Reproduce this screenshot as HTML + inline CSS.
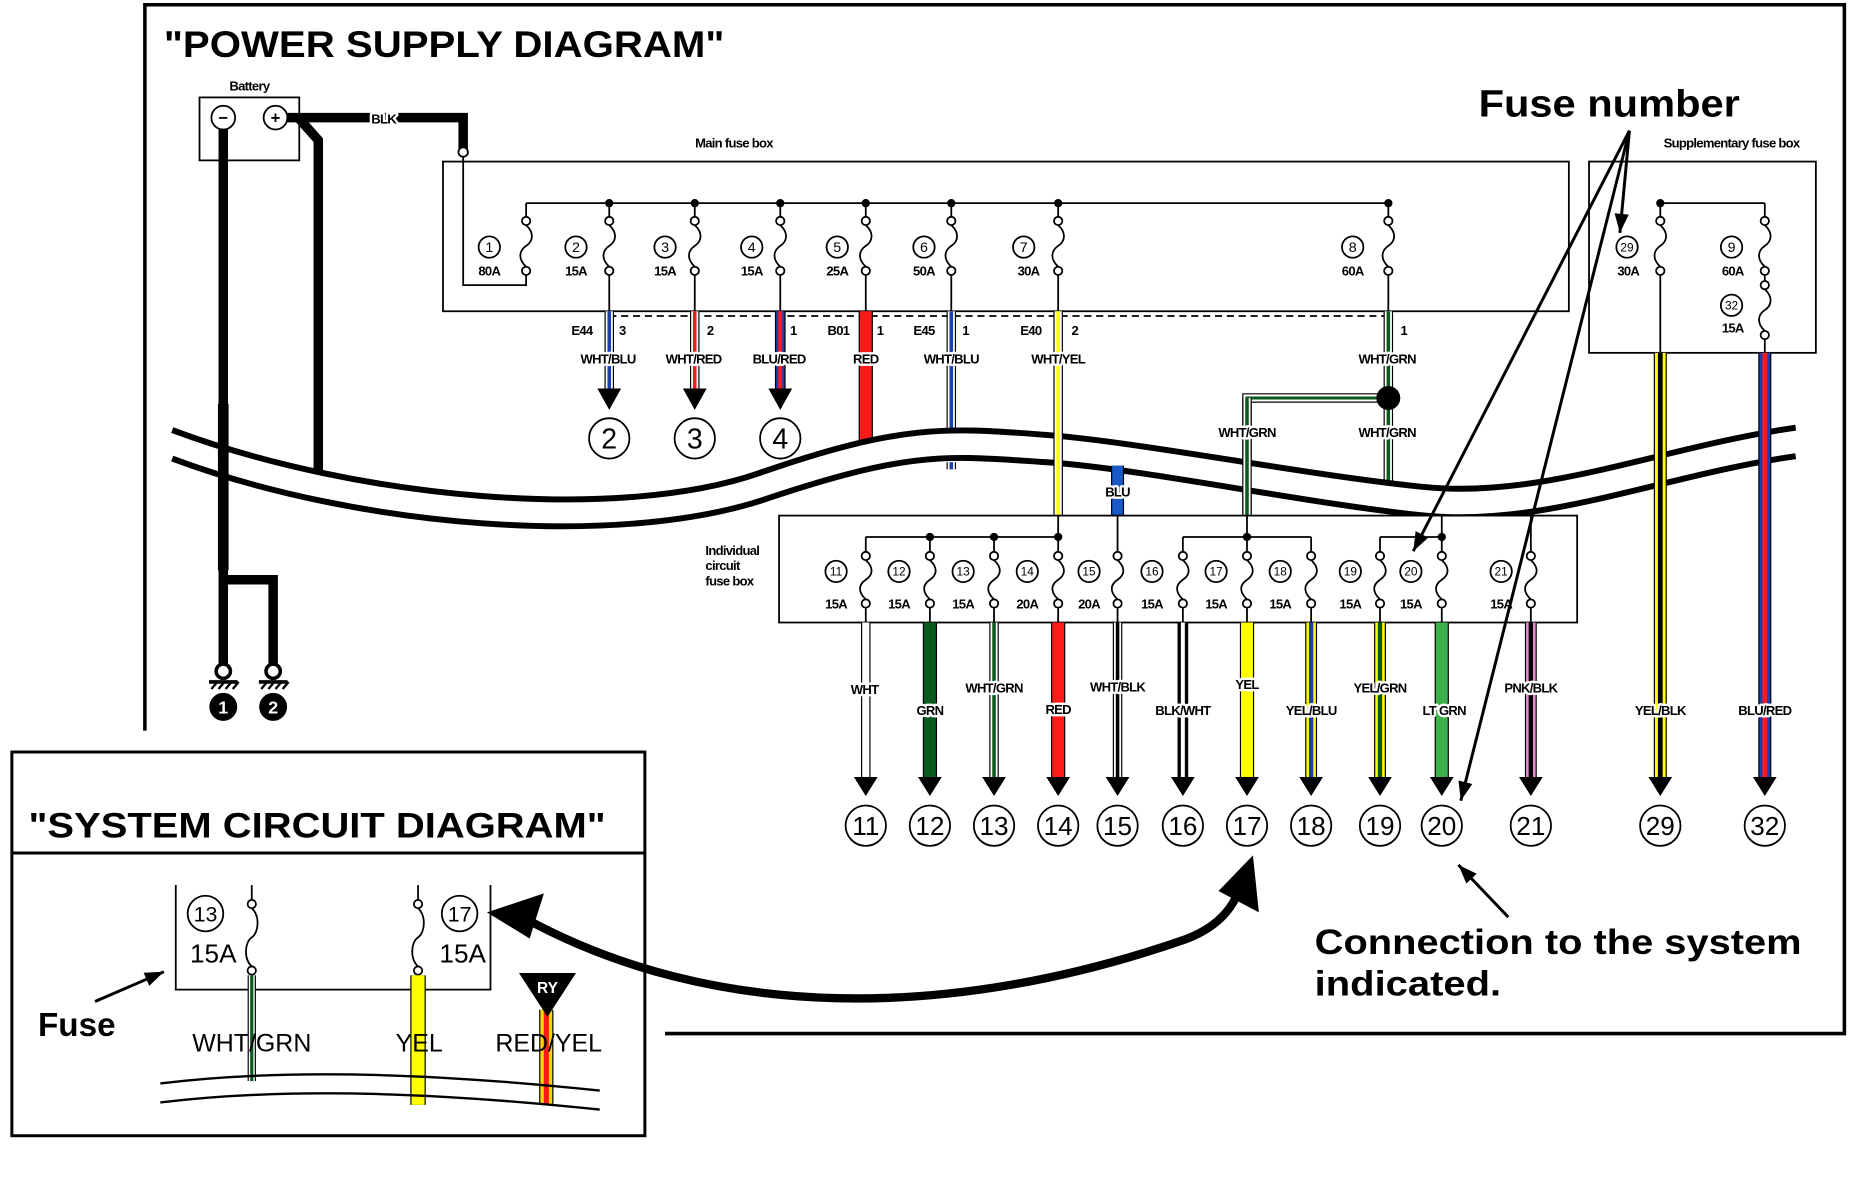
<!DOCTYPE html>
<html><head><meta charset="utf-8">
<style>
html,body{margin:0;padding:0;background:#fff}
svg{display:block}
text{font-family:"Liberation Sans",sans-serif;font-weight:bold;fill:#000}
.s{font-size:11px;letter-spacing:-0.6px}
.lb{paint-order:stroke;stroke:#fff;stroke-width:4px;stroke-linejoin:round}
.c{text-anchor:middle}
</style></head>
<body>
<svg id="svg" width="1861" height="1188" viewBox="0 0 1567 1000" preserveAspectRatio="none" xmlns="http://www.w3.org/2000/svg">
<rect width="1567" height="1000" fill="#fff"/>
<g id="shapes"></g>
<g id="top"></g>
<!-- texts -->
<text x="138" y="48" font-size="31" textLength="472" lengthAdjust="spacingAndGlyphs">"POWER SUPPLY DIAGRAM"</text>
<text x="210" y="76" class="s c" font-size="10">Battery</text>
<text x="323" y="104" class="s c lb">BLK</text>
<text x="618" y="124" class="s c">Main fuse box</text>
<text x="1458" y="124" class="s c">Supplementary fuse box</text>
<text x="1245" y="98" font-size="32" textLength="220" lengthAdjust="spacingAndGlyphs">Fuse number</text>
<text x="1107" y="803" font-size="30" textLength="410" lengthAdjust="spacingAndGlyphs">Connection to the system</text>
<text x="1107" y="838" font-size="30" textLength="157" lengthAdjust="spacingAndGlyphs">indicated.</text>

<g class="s c">
<text x="412" y="232">80A</text><text x="485" y="232">15A</text><text x="560" y="232">15A</text><text x="633" y="232">15A</text>
<text x="705" y="232">25A</text><text x="778" y="232">50A</text><text x="866" y="232">30A</text><text x="1139" y="232">60A</text>
<text x="1371" y="232">30A</text><text x="1459" y="232">60A</text><text x="1459" y="280">15A</text>
<text x="490" y="282">E44</text><text x="524" y="282">3</text><text x="598" y="282">2</text><text x="668" y="282">1</text>
<text x="706" y="282">B01</text><text x="741" y="282">1</text><text x="778" y="282">E45</text><text x="813" y="282">1</text>
<text x="868" y="282">E40</text><text x="905" y="282">2</text><text x="1182" y="282">1</text>
</g>
<g class="s c lb">
<text x="512" y="306">WHT/BLU</text><text x="584" y="306">WHT/RED</text><text x="656" y="306">BLU/RED</text>
<text x="729" y="306">RED</text><text x="801" y="306">WHT/BLU</text><text x="891" y="306">WHT/YEL</text>
<text x="1168" y="306">WHT/GRN</text><text x="1050" y="368">WHT/GRN</text><text x="1168" y="368">WHT/GRN</text>
<text x="941" y="418">BLU</text>
<text x="728" y="584">WHT</text><text x="783" y="602">GRN</text><text x="837" y="583">WHT/GRN</text>
<text x="891" y="601">RED</text><text x="941" y="582">WHT/BLK</text><text x="996" y="602">BLK/WHT</text>
<text x="1050" y="580">YEL</text><text x="1104" y="602">YEL/BLU</text><text x="1162" y="583">YEL/GRN</text>
<text x="1216" y="602">LT GRN</text><text x="1289" y="583">PNK/BLK</text><text x="1398" y="602">YEL/BLK</text>
<text x="1486" y="602">BLU/RED</text>
</g>
<g class="s">
<text x="594" y="467">Individual</text><text x="594" y="480">circuit</text><text x="594" y="493">fuse box</text>
</g>
<g class="s c">
<text x="704" y="512">15A</text><text x="757" y="512">15A</text><text x="811" y="512">15A</text><text x="865" y="512">20A</text>
<text x="917" y="512">20A</text><text x="970" y="512">15A</text><text x="1024" y="512">15A</text><text x="1078" y="512">15A</text>
<text x="1137" y="512">15A</text><text x="1188" y="512">15A</text><text x="1264" y="512">15A</text>
</g>

<text x="24" y="705" font-size="30" textLength="486" lengthAdjust="spacingAndGlyphs">"SYSTEM CIRCUIT DIAGRAM"</text>
<text x="160" y="810" font-size="22" style="font-weight:normal">15A</text>
<text x="370" y="810" font-size="22" style="font-weight:normal">15A</text>
<text x="32" y="872" font-size="28">Fuse</text>
<text x="212" y="885" font-size="21" class="c" style="font-weight:normal">WHT/GRN</text>
<text x="353" y="885" font-size="21" class="c" style="font-weight:normal">YEL</text>
<text x="462" y="885" font-size="21" class="c" style="font-weight:normal">RED/YEL</text>
<text x="461" y="836" font-size="13" class="c" style="fill:#fff">RY</text>
<g id="nums"></g>
</svg>
<script>
const NS="http://www.w3.org/2000/svg";
const S=document.getElementById('shapes');
function el(t,a,p){const e=document.createElementNS(NS,t);for(const k in a)e.setAttribute(k,a[k]);(p||S).appendChild(e);return e;}
function line(x1,y1,x2,y2,w,c,extra){return el('line',Object.assign({x1,y1,x2,y2,stroke:c||'#000','stroke-width':w||1.5},extra||{}));}
function wire(x,y1,y2,base,stripe,w,p){w=w||7;el('rect',{x:x-w/2-1,y:y1,width:w+2,height:y2-y1,fill:'#000'},p);
 el('rect',{x:x-w/2,y:y1,width:w,height:y2-y1,fill:base},p);
 if(stripe)el('rect',{x:x-w/6-0.5,y:y1,width:w/3+1,height:y2-y1,fill:stripe},p);}
function fuse(x,t,b){el('circle',{cx:x,cy:t,r:3.5,fill:'#fff',stroke:'#000','stroke-width':1.5});
 el('circle',{cx:x,cy:b,r:3.5,fill:'#fff',stroke:'#000','stroke-width':1.5});
 const m=(t+b)/2;el('path',{d:`M${x} ${t+3.5} C${x+7} ${t+10} ${x+6} ${m-4} ${x} ${m} S${x-7} ${b-10} ${x} ${b-3.5}`,fill:'none',stroke:'#000','stroke-width':1.5});}
function dot(x,y,r){el('circle',{cx:x,cy:y,r:r||3.5,fill:'#000'});}
function arrow(x,y,w,h,p){el('path',{d:`M${x-w} ${y-h} L${x+w} ${y-h} L${x} ${y} Z`,fill:'#000'},p);}
el('path',{d:'M122 615 L122 4 L1553 4 L1553 870 L560 870',fill:'none',stroke:'#000','stroke-width':3});
el('rect',{x:168,y:82,width:84,height:53,fill:'#fff',stroke:'#000','stroke-width':1.5});
el('path',{d:'M240 99 L390 99 L390 128',fill:'none',stroke:'#000','stroke-width':8});
el('circle',{cx:390,cy:128,r:4,fill:'#fff',stroke:'#000','stroke-width':1.5});
el('path',{d:'M252 100 L268 118 L268 405',fill:'none',stroke:'#000','stroke-width':8});
el('path',{d:'M188 108 L188 565 M188 488 L230 488 L230 565',fill:'none',stroke:'#000','stroke-width':8});
[188,230].forEach((x,i)=>{el('circle',{cx:x,cy:565,r:6,fill:'#fff',stroke:'#000','stroke-width':3});
 line(x-12,574,x+12,574,3);for(let k=0;k<4;k++)line(x-10+k*6,580,x-5+k*6,574,2);});
[[188,'\u2212'],[232,'+']].forEach(a=>{el('circle',{cx:a[0],cy:99,r:10,fill:'#fff',stroke:'#000','stroke-width':1.5});});
el('rect',{x:373,y:136,width:948,height:126,fill:'none',stroke:'#000','stroke-width':1.5});
line(443,171,1169,171);
el('path',{d:'M390 132 L390 240 L443 240 L443 232',fill:'none',stroke:'#000','stroke-width':1.5});
[443,513,585,657,729,801,891,1169].forEach((x,i)=>{line(x,171,x,186);fuse(x,186,228);if(i>0)dot(x,171);if(i>0)line(x,232,x,262);});
line(513,266,1169,266,1.5,'#000',{'stroke-dasharray':'6 4'});
wire(513,262,330,'#fff','#1a3fb0',6);arrow(513,345,10,18);
wire(585,262,330,'#fff','#ff1a1a',6);arrow(585,345,10,18);
wire(657,262,330,'#1a3fb0','#ff1a1a',7);arrow(657,345,10,18);
wire(729,262,390,'#ff1a1a',null,10);
wire(801,262,395,'#fff','#1a3fb0',6);
wire(1169,262,420,'#fff','#0a5a1e',6);
el('path',{d:'M1169 335 L1050 335 L1050 434',fill:'none',stroke:'#000','stroke-width':8,'stroke-linejoin':'miter'});
el('path',{d:'M1169 335 L1050 335 L1050 434',fill:'none',stroke:'#fff','stroke-width':6});
el('path',{d:'M1169 335 L1050 335 L1050 434',fill:'none',stroke:'#0a5a1e','stroke-width':2.5});
dot(1169,335,10);
el('rect',{x:1338,y:136,width:191,height:161,fill:'none',stroke:'#000','stroke-width':1.5});
line(1398,171,1486,171);line(1398,171,1398,186);line(1486,171,1486,186);dot(1398,171);
fuse(1398,186,228);fuse(1486,186,228);line(1486,232,1486,240);fuse(1486,240,282);
line(1398,232,1398,297);line(1486,286,1486,297);
const up='M145 362 C300 420 520 440 640 398 S800 360 880 366 S1100 400 1200 410 S1400 376 1512 360';
const lo='M145 386 C300 444 520 462 645 420 S800 384 880 389 S1100 424 1200 434 S1400 400 1512 384';
el('path',{d:'M145 362 C300 420 520 440 640 398 S800 360 880 366 S1100 400 1200 410 S1400 376 1512 360 L1512 384 C1400 400 1300 434 1200 434 S960 389 880 389 S720 384 645 420 S300 444 145 386 Z',fill:'#fff'});
el('path',{d:up,fill:'none',stroke:'#000','stroke-width':5});
el('path',{d:lo,fill:'none',stroke:'#000','stroke-width':5});
wire(188,340,480,'#000',null,7);
wire(891,262,434,'#fff','#ffff00',6);
wire(1050,335,434,'#fff','#0a5a1e',6);
wire(941,392,434,'#1a5ac8',null,9);
wire(1398,297,655,'#ffff00','#000',9);arrow(1398,670,10,16);
wire(1486,297,655,'#1a3fb0','#ff1a1a',9);arrow(1486,670,10,16);
el('circle',{cx:1169,cy:335,r:10,fill:'#000'});
el('rect',{x:656,y:434,width:672,height:90,fill:'#fff',stroke:'#000','stroke-width':1.5});
line(729,452,891,452);line(996,452,1104,452);line(1162,452,1214,452);
line(891,434,891,452);line(941,434,941,464);line(1050,434,1050,452);line(1214,434,1214,452);line(1289,434,1289,464);
[783,837,891,1050,1214].forEach(x=>dot(x,452));
const ix=[729,783,837,891,941,996,1050,1104,1162,1214,1289];
ix.forEach(x=>{if(x!=941&&x!=1289)line(x,452,x,464);fuse(x,468,508);line(x,512,x,524);});
const bw=[[729,'#fff',null,6],[783,'#0a5a1e',null,10],[837,'#fff','#0a5a1e',6],[891,'#ff1a1a',null,10],[941,'#fff','#000',6],[996,'#000','#fff',7],
[1050,'#ffff00',null,10],[1104,'#ffff00','#1a3fb0',8],[1162,'#ffff00','#0a5a1e',8],[1214,'#3cb04a',null,10],[1289,'#f08ad0','#000',8]];
bw.forEach(a=>{wire(a[0],524,655,a[1],a[2],a[3]);arrow(a[0],670,10,16);});
function carrow(x1,y1,x2,y2,w){line(x1,y1,x2,y2,w||2.5);const a=Math.atan2(y2-y1,x2-x1),L=16,W=6;
 el('path',{d:`M${x2} ${y2} L${x2-L*Math.cos(a)+W*Math.sin(a)} ${y2-L*Math.sin(a)-W*Math.cos(a)} L${x2-L*Math.cos(a)-W*Math.sin(a)} ${y2-L*Math.sin(a)+W*Math.cos(a)} Z`,fill:'#000'});}
carrow(1372,110,1364,196);carrow(1372,110,1190,464);carrow(1372,110,1230,674);
carrow(1270,772,1228,728);
el('rect',{x:10,y:633,width:533,height:323,fill:'#fff',stroke:'#000','stroke-width':2.5});
line(10,718,543,718,2.5);
el('path',{d:'M148 745 L148 833 L413 833 L413 745',fill:'none',stroke:'#000','stroke-width':1.5});
fuse(212,761,817);fuse(352,761,817);line(212,745,212,757);line(352,745,352,757);
wire(212,821,910,'#fff','#0a5a1e',5);
wire(352,821,930,'#ffff00',null,11);
wire(460,850,930,'#ffd400','#ff1a1a',10);
el('path',{d:'M437 819 L485 819 L461 856 Z',fill:'#000'});
carrow(80,843,138,818);
el('path',{d:'M135 912 C250 898 380 905 505 918',fill:'none',stroke:'#000','stroke-width':2});
el('path',{d:'M135 928 C250 914 380 921 505 934',fill:'none',stroke:'#000','stroke-width':2});
el('path',{d:'M440 772 C600 860 800 860 1000 790 C1030 778 1040 760 1045 745',fill:'none',stroke:'#000','stroke-width':7});
el('path',{d:'M410 768 L458 752 L446 790 Z',fill:'#000'});
el('path',{d:'M1055 720 L1060 768 L1026 750 Z',fill:'#000'});
const N=document.getElementById('nums');
function cn(x,y,r,t,fs,fill){el('circle',{cx:x,cy:y,r:r,fill:fill?'#000':'#fff',stroke:'#000','stroke-width':1.5},N);
 const e=el('text',{x:x,y:y+fs*0.36,'font-size':fs,'text-anchor':'middle',style:fill?'fill:#fff':'font-weight:normal'},N);e.textContent=t;}
[[412,'1'],[485,'2'],[560,'3'],[633,'4'],[705,'5'],[778,'6'],[862,'7'],[1139,'8'],[1370,'29'],[1458,'9'],[1458,'32']].forEach((a,i)=>cn(a[0],i==10?257:208,9,a[1],a[1].length>1?10:12));
[[513,'2'],[585,'3'],[657,'4']].forEach(a=>cn(a[0],369,17,a[1],24));
[[704,'11'],[757,'12'],[811,'13'],[865,'14'],[917,'15'],[970,'16'],[1024,'17'],[1078,'18'],[1137,'19'],[1188,'20'],[1264,'21']].forEach(a=>cn(a[0],481,9,a[1],10));
[[729,'11'],[783,'12'],[837,'13'],[891,'14'],[941,'15'],[996,'16'],[1050,'17'],[1104,'18'],[1162,'19'],[1214,'20'],[1289,'21'],[1398,'29'],[1486,'32']].forEach(a=>cn(a[0],695,17,a[1],22));
cn(188,595,11,'1',15,true);cn(230,595,11,'2',15,true);
cn(173,769,15,'13',18);cn(387,769,15,'17',18);
[[188,'\u2212'],[232,'+']].forEach(a=>{const e=el('text',{x:a[0],y:104,'font-size':14,'text-anchor':'middle'},N);e.textContent=a[1];});
</script>
</body></html>
